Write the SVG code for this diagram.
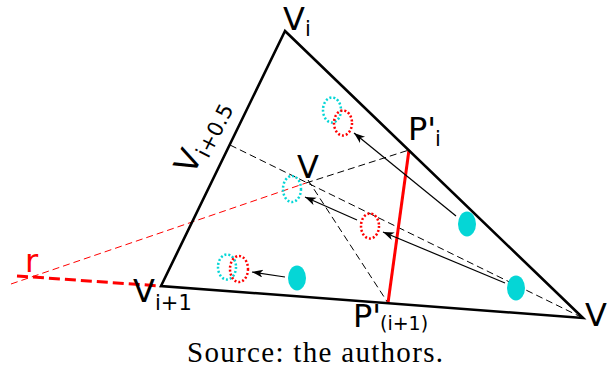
<svg xmlns="http://www.w3.org/2000/svg" width="611" height="370" viewBox="0 0 611 370">
<style>
.lbl{font-family:"DejaVu Sans",sans-serif;font-size:32px;fill:#000}
.sub{font-size:21px}
.tri{fill:none;stroke:#000;stroke-width:2.6;stroke-linejoin:miter}
.dash{fill:none;stroke:#000;stroke-width:1;stroke-dasharray:7 4}
.rdash{fill:none;stroke:#f00;stroke-width:1;stroke-dasharray:7 4}
.rthick{fill:none;stroke:#f00;stroke-width:3;stroke-dasharray:11 5}
.arr{fill:none;stroke:#000;stroke-width:1.2;marker-end:url(#ah)}
.dotc{fill:none;stroke:#05d6d6;stroke-width:2.5;stroke-dasharray:2 2}
.dotr{fill:none;stroke:#f00;stroke-width:2.5;stroke-dasharray:2 2}
.blob{fill:#05d6d6}
</style>
<defs>
<marker id="ah" markerWidth="12" markerHeight="10" refX="11" refY="4" orient="auto" markerUnits="userSpaceOnUse">
<path d="M0,0 L11,4 L0,8 L3,4 z" fill="#000"/>
</marker>
</defs>
<g id="connectors">
<line class="rdash" x1="11" y1="284" x2="306" y2="183"/>
<line class="dash" x1="306" y1="183" x2="409" y2="150"/>
<line class="dash" x1="230" y1="145" x2="583" y2="318"/>
<line class="dash" x1="308" y1="180" x2="388" y2="303"/>
<line class="rthick" x1="17" y1="276" x2="161" y2="286"/>
<line x1="409" y1="150" x2="388" y2="303" stroke="#f00" stroke-width="3"/>
<line class="arr" x1="456" y1="216" x2="354" y2="133"/>
<line class="arr" x1="505" y1="283" x2="383" y2="232"/>
<line class="arr" x1="357" y1="220" x2="305" y2="197"/>
<line class="arr" x1="285" y1="277" x2="252" y2="272"/>
</g>
<g id="triangle">
<polygon class="tri" points="285,31 161,286 583,318"/>
</g>
<g id="ellipses">
<ellipse class="dotc" cx="332" cy="110" rx="9" ry="12.5"/>
<ellipse class="dotr" cx="343" cy="123" rx="9" ry="12.5"/>
<ellipse class="dotc" cx="292" cy="189" rx="9" ry="13"/>
<ellipse class="dotr" cx="370" cy="226" rx="9" ry="12.5"/>
<ellipse class="dotc" cx="227" cy="267" rx="9" ry="12.5"/>
<ellipse class="dotr" cx="239" cy="269" rx="9" ry="13"/>
<ellipse class="blob" cx="467" cy="224" rx="9" ry="12.5"/>
<ellipse class="blob" cx="516" cy="288" rx="9" ry="12.5"/>
<ellipse class="blob" cx="297" cy="278" rx="9" ry="12.5"/>
</g>
<g id="labels">
<text class="lbl" x="283" y="30">V<tspan class="sub" x="305" y="36">i</tspan></text>
<text class="lbl" x="297" y="178">V</text>
<text class="lbl" x="408" y="140">P'<tspan class="sub" x="435" y="146">i</tspan></text>
<text class="lbl" x="353" y="327">P'<tspan class="sub" x="380" y="330" style="font-size:19px">(i+1)</tspan></text>
<text class="lbl" x="133" y="302">V<tspan class="sub" x="155" y="310">i+1</tspan></text>
<text class="lbl" x="585" y="326">V</text>
<text class="lbl" x="25" y="272" style="fill:#f00">r</text>
<text class="lbl" transform="translate(193,176) rotate(-63)">V<tspan class="sub" dy="6">i+0.5</tspan></text>
</g>
<text x="187" y="362" font-family="Liberation Serif, serif" font-size="29" textLength="256" lengthAdjust="spacing" fill="#000">Source: the authors.</text>
</svg>
